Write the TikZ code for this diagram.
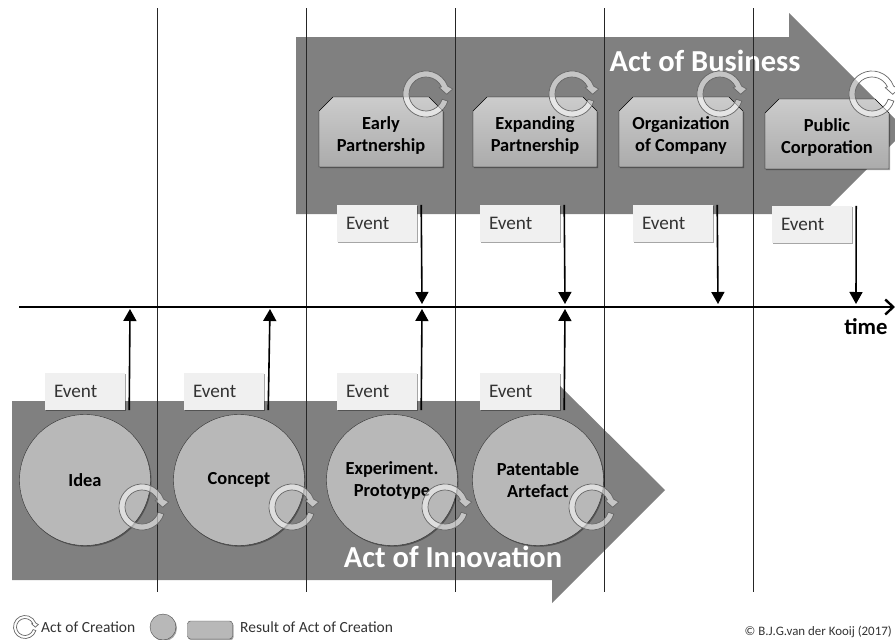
\documentclass[tikz,border=0pt]{standalone}
\usepackage{fontspec}
\setmainfont{Carlito}
\usetikzlibrary{arrows.meta,shadows,shapes.misc}
\definecolor{actgray}{gray}{0.5}
\definecolor{resgray}{gray}{0.72}
\tikzset{
  softshadow/.style={drop shadow={shadow xshift=1pt,shadow yshift=-1.2pt,opacity=0.35,fill=black}},
  acttext/.style={text=white,font=\bfseries\fontsize{30.5}{30.5}\selectfont},
  evbox/.style={fill=black!6,minimum width=80pt,minimum height=37pt,inner sep=0pt,softshadow,
    font=\fontsize{19.2}{19.2}\selectfont,text=black!80},
  rescircle/.style={circle,draw=black!80,fill=resgray,minimum size=131pt,inner sep=0pt,softshadow,
    align=center,font=\bfseries\fontsize{18.4}{22}\selectfont},
  resbox/.style={chamfered rectangle,chamfered rectangle corners={north west,north east},
    chamfered rectangle xsep=7pt,chamfered rectangle ysep=7pt,draw=black,top color=black!20,bottom color=black!33,
    minimum width=124pt,minimum height=70pt,inner sep=0pt,softshadow},
  restext/.style={align=center,inner sep=0pt,yshift=-3pt,font=\bfseries\fontsize{18.4}{22}\selectfont},
  evarrow/.style={-{Triangle[length=12pt,width=13pt]},line width=1.6pt,black},
  legtext/.style={font=\fontsize{15.5}{15.5}\selectfont,text=black!80},
  pics/creation/.style={code={
    \draw[draw=black!60,fill=white,fill opacity=0.55,line width=0.7pt,scale=#1]
      (18:23) arc[start angle=18,end angle=340,radius=23] -- (26.7,-5) -- (20.7,0.3)
      -- (13.3,-6.3) -- (335:17) arc[start angle=335,end angle=18,radius=17] -- cycle;
  }},
  pics/creation/.default=1,
}
\begin{document}
\begin{tikzpicture}[x=1pt,y=-1pt]
 \useasboundingbox (0,0) rectangle (895,640);
 % the two big arrows
 \fill[actgray] (296,37) -- (789,37) -- (789,13) -- (895,119) -- (895,141) -- (822,214) -- (296,214) -- cycle;
 \fill[actgray] (12,401) -- (552,401) -- (552,378) -- (665,490) -- (552,603) -- (552,580) -- (12,580) -- cycle;
 \node[acttext] (business) at (705,61) {Act of Business};
 \node[acttext] (innovation) at (453,557) {Act of Innovation};
 %
 \foreach \f in {157,306,...,753} \draw[black!85,line width=0.8pt] (\f,8) -- (\f,592);
 %
 \coordinate (tStart) at (19,307);
 \coordinate (tEnd) at (895,307);
 \draw[-{Straight Barb[length=8pt,width=15pt]},line width=2.4pt] (tStart) -- (tEnd);
 \node[font=\bfseries\fontsize{22.7}{22.7}\selectfont] (time) at (866,327) {time};
 %
 \foreach \n/\x/\l in {idea/85/Idea,concept/239/Concept,proto/392/{Experiment.\\Prototype},artefact/538/{Patentable\\Artefact}}
   \node[rescircle] (\n) at (\x,480) {\l};
 \foreach \n/\x/\y/\l in {early/381/132/{Early\\Partnership},expand/535/132/{Expanding\\Partnership},organ/681/132/{Organization\\of Company},public/827/134/{Public\\Corporation}}
   \node[resbox,label={[restext]center:{\l}}] (\n) at (\x,\y) {\phantom{\rule{80pt}{40pt}}};
 %
 \foreach \x in {426,572,720,872} \pic at (\x,94) {creation};
 \foreach \x in {142,292,445,592} \pic at (\x,507) {creation};
 %
 \foreach \n/\x/\y in {evA/85/391.5,evB/224/391.5,evC/377/391.5,evD/520/391.5,evE/377/223.5,evF/520/223.5,evG/673/223.5,evH/812/224.5}
   \node[evbox,text width=62pt] (\n) at (\x,\y) {Event};
 %
 \foreach \n/\x in {tA/130,tB/270,tC/422,tD/565} \coordinate (\n) at (\x,309);
 \foreach \n/\x in {tE/422,tF/565,tG/718,tH/856} \coordinate (\n) at (\x,304);
 \foreach \a/\b in {evA/tA,evB/tB,evC/tC,evD/tD}
   \draw[evarrow] ([xshift=4pt]\a.south east) -- (\b);
 \foreach \a/\b in {evE/tE,evF/tF,evG/tG,evH/tH}
   \draw[evarrow] ([xshift=4pt]\a.north east) -- (\b);
 % legend
 \pic at (25,627) {creation=0.5};
 \node[legtext,anchor=west,inner sep=0pt] (legcreate) at (41,627) {Act of Creation};
 \node[circle,draw=black!70,fill=resgray,minimum size=26pt,inner sep=0pt,softshadow] (legcircle) at (163,627) {};
 \node[rectangle,rounded corners=3pt,draw=black!70,fill=resgray,minimum width=45pt,minimum height=18pt,inner sep=0pt,softshadow] (legbox) at (210,630) {};
 \node[legtext,anchor=west,inner sep=0pt] (legresult) at (240,627) {Result of Act of Creation};
 \node[font=\fontsize{12.9}{12.9}\selectfont,text=black!80,anchor=east,inner sep=0pt] (copy) at (892,632) {© B.J.G.van der Kooij (2017)};
\end{tikzpicture}
\end{document}
